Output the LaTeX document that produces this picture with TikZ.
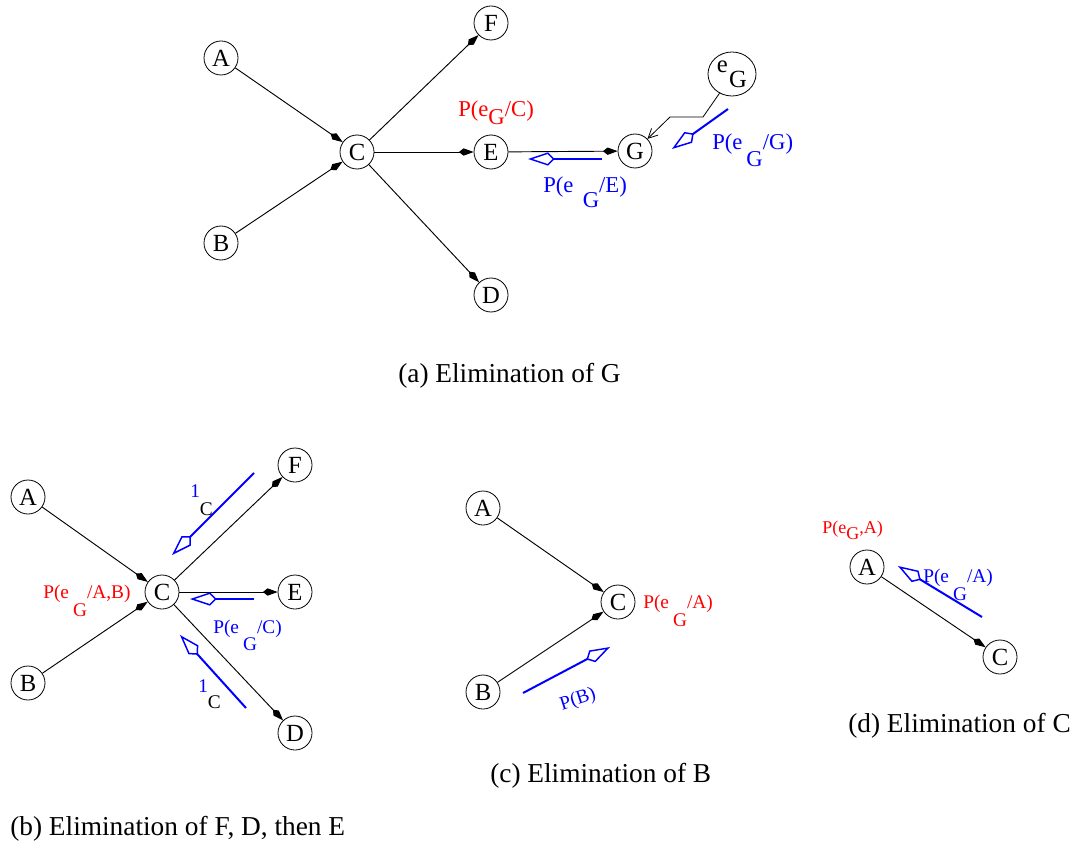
\documentclass[tikz,border=0pt]{standalone}
\usepackage{fontspec}
\setmainfont{Liberation Serif}
\usetikzlibrary{arrows.meta,shapes.geometric}

\newcommand{\dropped}[2]{\raisebox{-#1}{#2}}

\begin{document}
\begin{tikzpicture}[x=0.75pt,y=-0.75pt,
    vertex/.style={draw,circle,minimum size=25.5pt,inner sep=0pt,line width=0.6pt,font=\fontsize{18.5}{20}\selectfont},
    edge/.style={line width=0.7pt,-{Kite[length=11pt,width=5.5pt,inset=3.5pt]}},
    msg/.style={blue,line width=1.5pt,-{Kite[open,length=20pt,width=10pt,inset=5pt,line width=1.1pt]}},
    biglab/.style={anchor=base west,inner sep=0pt,font=\fontsize{17}{19}\selectfont},
    lab/.style={anchor=base west,inner sep=0pt,font=\fontsize{14.5}{16}\selectfont},
    caption/.style={anchor=base west,inner sep=0pt,font=\fontsize{20.5}{24}\selectfont}]
        \useasboundingbox (0,0) rectangle (1073,852);
        % (a) elimination of G
        \node[vertex] (aA) at (221,58) {A};
        \node[vertex] (aF) at (491,23) {F};
        \node[vertex] (aC) at (357,152) {C};
        \node[vertex] (aE) at (491,152) {E};
        \node[vertex] (aG) at (635,151) {G};
        \node[vertex] (aB) at (221,243) {B};
        \node[vertex] (aD) at (491,295) {D};
        \node[draw,ellipse,minimum width=36pt,minimum height=33pt,inner sep=0pt,line width=0.6pt,font=\fontsize{18.5}{20}\selectfont] (aeG) at (732,74) {\raisebox{0.6em}{e}\hspace{1pt}G};
        \draw[edge] (aA) -- (aC);
        \draw[edge] (aB) -- (aC);
        \draw[edge] (aC) -- (aF);
        \draw[edge] (aC) -- (aE);
        \draw[edge] (aC) -- (aD);
        \draw[edge] (aE) -- (aG);
        \coordinate (ak1) at (703,117);
        \coordinate (ak2) at (670,117);
        \draw[line width=0.6pt,-{Straight Barb[length=7pt,width=7pt]}] (aeG.237) -- (ak1) -- (ak2) -- (aG);
        \coordinate (am1s) at (602,159);
        \coordinate (am1t) at (528,159);
        \coordinate (am2s) at (728,109);
        \coordinate (am2t) at (672,149);
        \draw[msg] (am1s) -- (am1t);
        \draw[msg] (am2s) -- (am2t);
        \node[biglab,red] (alC) at (458,117) {P(e\dropped{6pt}{G}/C)};
        \node[biglab,blue] (alE) at (543,193) {P(e\hspace{7pt}\dropped{11pt}{G}/E)};
        \node[biglab,blue] (alG) at (712,150) {P(e\hspace{3pt}\dropped{12.75pt}{G}/G)};
        \node[caption] (capa) at (398,382) {(a) Elimination of G};
        % (b) elimination of F, D, then E
        \node[vertex] (bA) at (28,497) {A};
        \node[vertex] (bF) at (295,465) {F};
        \node[vertex] (bC) at (162,592) {C};
        \node[vertex] (bE) at (295,592) {E};
        \node[vertex] (bB) at (28,683) {B};
        \node[vertex] (bD) at (295,733) {D};
        \draw[edge] (bA) -- (bC);
        \draw[edge] (bB) -- (bC);
        \draw[edge] (bC) -- (bF);
        \draw[edge] (bC) -- (bE);
        \draw[edge] (bC) -- (bD);
        \coordinate (bm1s) at (254,473);
        \coordinate (bm1t) at (172,555);
        \coordinate (bm2s) at (254,599);
        \coordinate (bm2t) at (190,599);
        \coordinate (bm3s) at (246,708);
        \coordinate (bm3t) at (180,635);
        \draw[msg] (bm1s) -- (bm1t);
        \draw[msg] (bm2s) -- (bm2t);
        \draw[msg] (bm3s) -- (bm3t);
        \node[lab,red] (blC) at (43,598) {P(e\hspace{3pt}\dropped{14pt}{G}/A,B)};
        \node[lab,blue] (blE) at (213,633) {P(e\hspace{3pt}\dropped{12.75pt}{G}/C)};
        \node[lab] (blF) at (190,497) {{\color{blue}1}\dropped{13.5pt}{C}};
        \node[lab] (blD) at (198,692) {{\color{blue}1}\dropped{12pt}{C}};
        \node[caption] (capb) at (10,835) {(b) Elimination of F, D, then E};
        % (c) elimination of B
        \node[vertex] (cA) at (483,508) {A};
        \node[vertex] (cC) at (618,602) {C};
        \node[vertex] (cB) at (483,692) {B};
        \draw[edge] (cA) -- (cC);
        \draw[edge] (cB) -- (cC);
        \coordinate (cms) at (523,693);
        \coordinate (cmt) at (610,647);
        \draw[msg] (cms) -- (cmt);
        \node[lab,red] (clC) at (643,608) {P(e\hspace{3pt}\dropped{14pt}{G}/A)};
        \node[lab,blue,anchor=center,rotate=18] (clB) at (578,700) {P(B)};
        \node[caption] (capc) at (490,782) {(c) Elimination of B};
        % (d) elimination of C
        \node[vertex] (dA) at (867,567) {A};
        \node[vertex] (dC) at (1000,657) {C};
        \draw[edge] (dA) -- (dC);
        \coordinate (dms) at (982,617);
        \coordinate (dmt) at (898,566);
        \draw[msg] (dms) -- (dmt);
        \node[lab,red,font=\fontsize{13.5}{15}\selectfont] (dlA) at (822,533) {P(e\dropped{5pt}{G},A)};
        \node[lab,blue] (dlC) at (923,582) {P(e\hspace{3pt}\dropped{13.5pt}{G}/A)};
        \node[caption] (capd) at (848,732) {(d) Elimination of C};
      \end{tikzpicture}
\end{document}
